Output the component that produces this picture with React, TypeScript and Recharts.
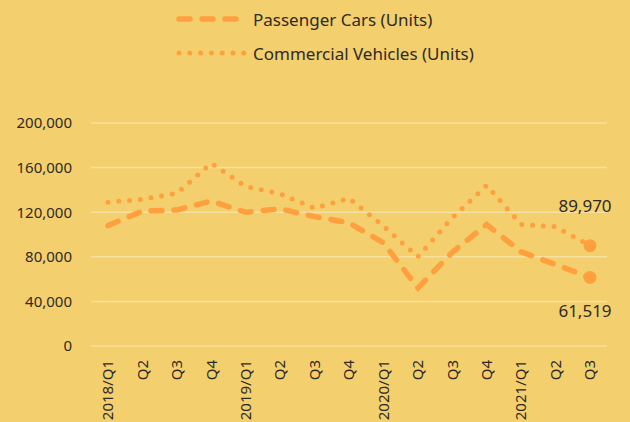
import { CartesianGrid, LabelList, Legend, Line, LineChart, XAxis, YAxis } from "recharts";

const quarters = [
  "2018/Q1", "Q2", "Q3", "Q4",
  "2019/Q1", "Q2", "Q3", "Q4",
  "2020/Q1", "Q2", "Q3", "Q4",
  "2021/Q1", "Q2", "Q3",
];
const passengerCars = [
  108000, 121000, 122000, 130000, 120000, 123000, 116000, 110500,
  92600, 52000, 84000, 109000, 84500, 73000, 61519,
];
const commercialVehicles = [
  129000, 131500, 137000, 164000, 143000, 136500, 123500, 132500,
  107500, 80000, 115000, 144000, 109000, 107000, 89970,
];
const yTicks = [0, 40000, 80000, 120000, 160000, 200000];

const BG = "#F4CF6D";
const ORANGE = "#FFA03F";
const TEXT = "#2E2B26";
const FONT = "'Noto Sans', sans-serif";

const data = quarters.map((q, i) => ({
  key: `${i}`,
  quarter: q,
  cars: passengerCars[i],
  commercial: commercialVehicles[i],
}));
const last = data.length - 1;

const fmt = (v: number) => v.toLocaleString("en-US");

function QuarterTick({ x, y, payload }: any) {
  return (
    <text
      x={x}
      y={y}
      transform={`rotate(-90, ${x}, ${y})`}
      textAnchor="end"
      dy="0.35em"
      fill={TEXT}
      fontSize={15}
      fontFamily={FONT}
    >
      {quarters[payload.index ?? Number(payload.value)]}
    </text>
  );
}

const lastDot = (props: any) => {
  const { cx, cy, index } = props;
  if (index !== last) return <g key={`d${index}`} />;
  return <circle key={`d${index}`} cx={cx} cy={cy} r={6.5} fill={ORANGE} />;
};

const endLabel = (offset: number) => (props: any) => {
  const { x, y, index, value } = props;
  if (index !== last) return null;
  return (
    <text
      x={x - 5}
      y={y + offset}
      textAnchor="middle"
      dominantBaseline="central"
      fill={TEXT}
      fontSize={17}
      fontFamily={FONT}
    >
      {fmt(value)}
    </text>
  );
};

function ChartLegend() {
  const items = [
    { name: "Passenger Cars (Units)", dash: "11 12", width: 5.5 },
    { name: "Commercial Vehicles (Units)", dash: "0 10.8", width: 5 },
  ];
  return (
    <div style={{ position: "relative", width: 630, height: 70 }}>
      {items.map((it, i) => (
        <div
          key={it.name}
          style={{
            position: "absolute",
            left: 174,
            top: 7 + i * 34,
            display: "flex",
            alignItems: "center",
            height: 24,
          }}
        >
          <svg width={76} height={10}>
            <line
              x1={5}
              x2={73}
              y1={5}
              y2={5}
              stroke={ORANGE}
              strokeWidth={it.width}
              strokeDasharray={it.dash}
              strokeLinecap="round"
            />
          </svg>
          <span style={{ marginLeft: 3, fontSize: 17, color: TEXT, fontFamily: FONT }}>{it.name}</span>
        </div>
      ))}
    </div>
  );
}

export default function App() {
  return (
    <div style={{ position: "absolute", left: 0, top: 0, width: 630, height: 422, background: BG, overflow: "hidden" }}>
      <LineChart width={630} height={422} data={data} margin={{ top: 123, right: 23, bottom: 0, left: 0 }}>
        <CartesianGrid horizontal vertical={false} stroke="rgba(255,255,255,0.35)" strokeWidth={1.5} />
        <XAxis
          dataKey="key"
          height={76}
          interval={0}
          axisLine={false}
          tickLine={false}
          tickMargin={8}
          padding={{ left: 17, right: 17 }}
          tick={<QuarterTick />}
        />
        <YAxis
          width={91}
          domain={[0, 200000]}
          ticks={yTicks}
          tickFormatter={fmt}
          axisLine={false}
          tickLine={false}
          tickMargin={13}
          tick={{ fill: TEXT, fontSize: 15, fontFamily: FONT }}
        />
        <Legend verticalAlign="middle" align="center" layout="horizontal" wrapperStyle={{ top: 0, left: 0, width: 630 }} content={<ChartLegend />} />
        <Line
          type="linear"
          dataKey="commercial"
          stroke={ORANGE}
          strokeWidth={5}
          strokeDasharray="0 10.8"
          strokeLinecap="round"
          dot={lastDot}
          activeDot={false}
          isAnimationActive={false}
        >
          <LabelList dataKey="commercial" content={endLabel(-40)} />
        </Line>
        <Line
          type="linear"
          dataKey="cars"
          stroke={ORANGE}
          strokeWidth={5.5}
          strokeDasharray="11 12"
          strokeLinecap="round"
          dot={lastDot}
          activeDot={false}
          isAnimationActive={false}
        >
          <LabelList dataKey="cars" content={endLabel(33)} />
        </Line>
      </LineChart>
    </div>
  );
}
